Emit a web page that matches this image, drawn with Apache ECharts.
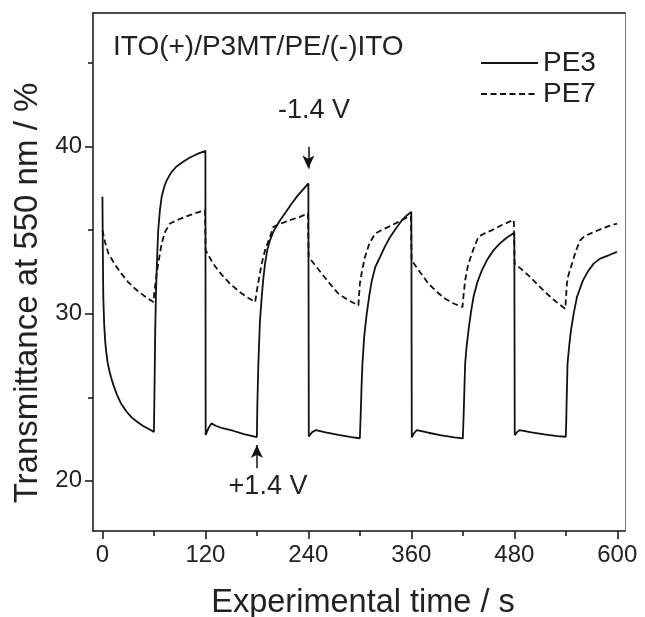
<!DOCTYPE html>
<html>
<head>
<meta charset="utf-8">
<script src="https://cdn.jsdelivr.net/npm/echarts@6/dist/echarts.min.js"></script>
<style>
html,body{margin:0;padding:0;background:#fff;}
#chart{width:645px;height:617px;}
</style>
</head>
<body>
<div id="chart"></div>
<script>
// ---- data ----
const xMajorTicks = [0, 120, 240, 360, 480, 600];
const xMinorTicks = [60, 180, 300, 420, 540];
const yMajorTicks = [20, 30, 40];
const yMinorTicks = [25, 35, 45];
const seriesNames = ['PE3', 'PE7'];

const pe3Time = [0,0.5,1,2,3,4,6,8,10,13,17,22,28,34,40,47,54,60,
  60.8,61.5,62.5,63.5,65,67,69,72,75,80,86,94,102,110,120,
  120.3,124,127,132,140,152,165,180,
  180.5,181.7,183.5,185.6,187.5,189.5,192,195.3,200,207,214,220.6,228,234,240,
  240.5,244,249,260,275,290,300,
  301,302,303,305,308,311,314,318,323.6,329,335.3,342,349,355,360,
  360.5,363,366.4,380,395,410,420,
  421,422,422.7,424.5,426.6,429.5,432.4,437,442.2,448,455.7,463,471,480,
  480.5,483,486,500,515,530,540,
  540.5,541,542,544,546,549.5,553,560,566,572.4,580,590,599.6];
const pe3Value = [37.0,33.5,31.0,29.4,28.5,27.9,27.1,26.6,26.2,25.7,25.15,24.6,24.15,23.8,23.55,23.3,23.1,22.93,
  26.0,29.0,31.5,33.0,35.0,36.2,37.0,37.6,38.0,38.45,38.8,39.1,39.35,39.55,39.75,
  22.75,23.2,23.44,23.3,23.15,23.0,22.8,22.62,
  24.5,27.0,29.5,31.0,32.1,33.0,33.8,34.4,35.0,35.6,36.1,36.6,37.1,37.45,37.8,
  22.65,22.9,23.04,22.9,22.75,22.62,22.55,
  24.0,25.7,27.0,28.6,30.0,31.1,32.0,32.8,33.4,34.0,34.6,35.1,35.6,35.9,36.1,
  22.6,22.85,23.04,22.88,22.72,22.6,22.54,
  24.0,25.8,27.0,28.1,29.0,30.1,31.0,31.9,32.6,33.2,33.8,34.2,34.55,34.85,
  22.74,22.9,23.04,22.9,22.78,22.68,22.64,
  23.5,24.8,27.0,28.1,29.0,30.1,31.0,32.0,32.55,33.0,33.3,33.5,33.7];

const pe7Time = [0,3,7,14,22,30,38,48,59.3,
  61,63.2,66,69,73,78.7,87,96,107,119.5,
  120.3,129,138,148.7,160,170,178,
  180,185.6,190,195.3,199.2,208,218.7,230,239.5,
  240.3,248,255.6,265,275,287,298.3,
  300,303,306,311,317.8,325,333.3,345,356.6,359.5,
  360.3,370,380,390,399.4,410,419.6,
  421,422.7,426,430.5,434,438.2,445,453.8,465,477,479.5,
  480.3,490,498.5,508,518,528,539.4,
  541.3,543,547.2,552,556.9,562,568.5,580,590,599.7];
const pe7Value = [35.0,34.3,33.6,33.0,32.4,31.9,31.5,31.1,30.7,
  31.5,32.4,33.3,34.2,34.9,35.4,35.6,35.8,36.0,36.2,
  33.8,33.0,32.4,31.8,31.3,30.95,30.7,
  31.4,33.0,33.9,34.6,35.2,35.4,35.6,35.8,36.0,
  33.4,32.9,32.4,31.8,31.2,30.8,30.5,
  31.8,32.7,33.4,34.2,34.8,35.0,35.2,35.5,35.8,35.85,
  33.2,32.5,31.8,31.3,30.9,30.6,30.4,
  31.2,32.0,32.9,33.6,34.1,34.6,34.8,35.0,35.3,35.57,35.6,
  33.0,32.6,32.2,31.7,31.2,30.75,30.3,
  31.8,32.3,33.0,33.8,34.4,34.65,34.8,35.05,35.25,35.4];

const cellText = 'ITO(+)/P3MT/PE/(-)ITO';
const negLabel = '-1.4 V';
const posLabel = '+1.4 V';
const negArrow = [[240, 40.0], [240, 38.7]];
const posArrow = [[180, 20.76], [180, 22.14]];

// ---- chart ----
const FONT = '"Liberation Sans", Arial, Helvetica, sans-serif';
const INK = '#111';
const X_MIN = -11, X_MAX = 609, Y_MIN = 17, Y_MAX = 48;
const zip = (a, b) => a.map((v, i) => [v, b[i]]);

const chart = echarts.init(document.getElementById('chart'), null, {renderer: 'canvas'});
const gridRect = {left: 93, right: 20, top: 13, bottom: 86, containLabel: false, outerBoundsMode: 'none'};

chart.setOption({
  animation: false,
  backgroundColor: '#fff',
  textStyle: {fontFamily: FONT},
  grid: [Object.assign({}, gridRect), Object.assign({}, gridRect)],
  legend: {
    data: seriesNames,
    orient: 'vertical',
    left: 480, top: 49, padding: 0,
    itemWidth: 57, itemHeight: 14, itemGap: 3,
    itemStyle: {opacity: 0},
    textStyle: {fontSize: 28, color: '#222', fontFamily: FONT}
  },
  xAxis: [
    {
      type: 'value', gridIndex: 0, position: 'bottom', min: X_MIN, max: X_MAX,
      name: 'Experimental time / s', nameLocation: 'middle', nameGap: 56,
      nameTextStyle: {fontSize: 32.5, color: '#222', fontFamily: FONT, padding: [0, 0, 0, 8]},
      axisLine: {show: true, onZero: false, lineStyle: {color: INK, width: 1.5}},
      axisTick: {show: true, customValues: xMajorTicks, length: 8, lineStyle: {color: INK, width: 1.5}},
      axisLabel: {customValues: xMajorTicks, fontSize: 24, color: '#222', margin: 12, fontFamily: FONT},
      splitLine: {show: false}
    },
    {
      type: 'value', gridIndex: 0, position: 'top', min: X_MIN, max: X_MAX,
      axisLine: {show: true, onZero: false, lineStyle: {color: INK, width: 1.5}},
      axisTick: {show: false}, axisLabel: {show: false}, splitLine: {show: false}
    },
    {
      type: 'value', gridIndex: 1, position: 'bottom', min: X_MIN, max: X_MAX,
      axisLine: {show: false, onZero: false},
      axisTick: {show: true, customValues: xMinorTicks, length: 5, lineStyle: {color: INK, width: 1.5}},
      axisLabel: {show: false}, splitLine: {show: false}
    }
  ],
  yAxis: [
    {
      type: 'value', gridIndex: 0, position: 'left', min: Y_MIN, max: Y_MAX,
      name: 'Transmittance at 550 nm / %', nameLocation: 'middle', nameGap: 45,
      nameTextStyle: {fontSize: 33, color: '#222', fontFamily: FONT, padding: [0, 42, 0, 0]},
      axisLine: {show: true, onZero: false, lineStyle: {color: INK, width: 1.5}},
      axisTick: {show: true, customValues: yMajorTicks, length: 8, lineStyle: {color: INK, width: 1.5}},
      axisLabel: {customValues: yMajorTicks, fontSize: 24, color: '#222', margin: 11, fontFamily: FONT},
      splitLine: {show: false}
    },
    {
      type: 'value', gridIndex: 0, position: 'right', min: Y_MIN, max: Y_MAX,
      axisLine: {show: true, onZero: false, lineStyle: {color: '#777', width: 1}},
      axisTick: {show: false}, axisLabel: {show: false}, splitLine: {show: false}
    },
    {
      type: 'value', gridIndex: 1, position: 'left', min: Y_MIN, max: Y_MAX,
      axisLine: {show: false, onZero: false},
      axisTick: {show: true, customValues: yMinorTicks, length: 5, lineStyle: {color: INK, width: 1.5}},
      axisLabel: {show: false}, splitLine: {show: false}
    }
  ],
  series: [
    {
      name: seriesNames[0], type: 'line', xAxisIndex: 0, yAxisIndex: 0,
      data: zip(pe3Time, pe3Value), symbol: 'none', showSymbol: false,
      lineStyle: {color: INK, width: 1.8, type: 'solid'}, itemStyle: {color: INK},
      markLine: {
        silent: true, symbol: ['none', 'arrow'], symbolSize: [9, 13],
        label: {show: false},
        lineStyle: {color: INK, width: 1.5, type: 'solid'},
        data: [
          [{coord: negArrow[0]}, {coord: negArrow[1]}],
          [{coord: posArrow[0]}, {coord: posArrow[1]}]
        ]
      }
    },
    {
      name: seriesNames[1], type: 'line', xAxisIndex: 0, yAxisIndex: 0,
      data: zip(pe7Time, pe7Value), symbol: 'none', showSymbol: false,
      lineStyle: {color: INK, width: 1.8, type: [6, 3.5]}, itemStyle: {color: INK}
    }
  ],
  graphic: [
    {type: 'text', x: 113, y: 47, style: {text: cellText, font: '28px ' + FONT, fill: '#222', align: 'left', verticalAlign: 'middle', textAlign: 'left', textVerticalAlign: 'middle'}},
    {type: 'text', x: 314, y: 111, style: {text: negLabel, font: '27px ' + FONT, fill: '#222', align: 'center', verticalAlign: 'middle', textAlign: 'center', textVerticalAlign: 'middle'}},
    {type: 'text', x: 268, y: 487, style: {text: posLabel, font: '27px ' + FONT, fill: '#222', align: 'center', verticalAlign: 'middle', textAlign: 'center', textVerticalAlign: 'middle'}}
  ]
});
</script>
</body>
</html>
